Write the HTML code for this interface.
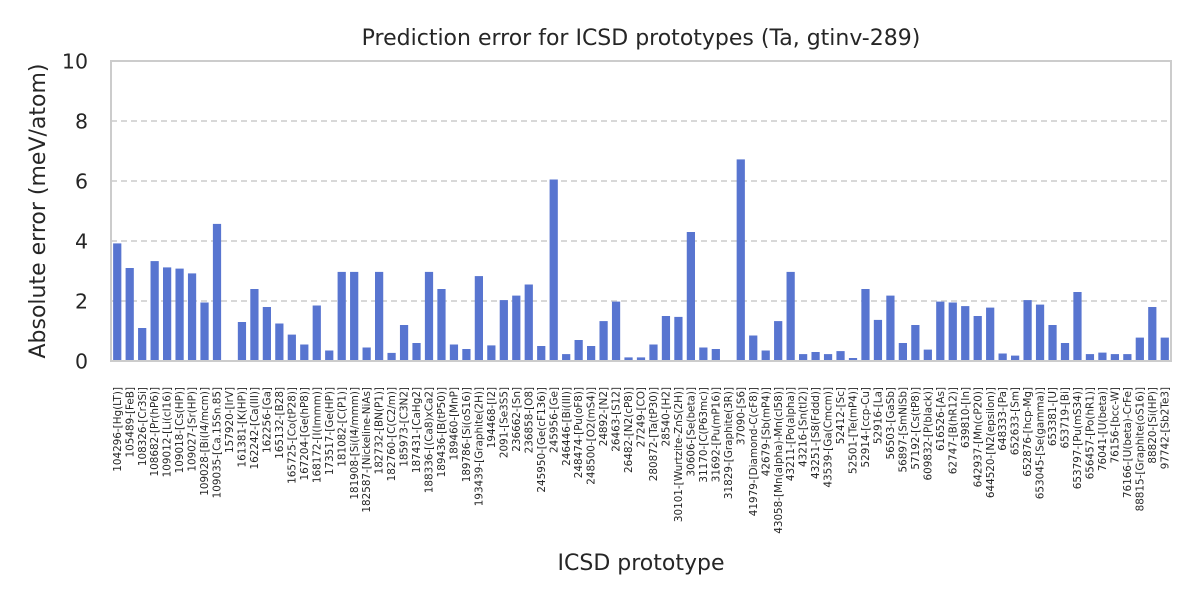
<!DOCTYPE html>
<html><head><meta charset="utf-8"><style>
html,body{margin:0;padding:0;background:#fff;}
svg{display:block;font-family:"DejaVu Sans","Liberation Sans",sans-serif;}
</style></head><body>
<svg id="chart" width="1200" height="600" viewBox="0 0 1200 600">
<rect width="1200" height="600" fill="#fff"/>
<text x="641" y="45" font-size="22" text-anchor="middle" fill="#262626">Prediction error for ICSD prototypes (Ta, gtinv-289)</text>
<g id="grid"></g>
<g id="bars"></g>
<rect x="111" y="61" width="1060" height="300" fill="none" stroke="#cccccc" stroke-width="2"/>
<g id="yticks"></g>
<g id="xticks"></g>
<text transform="translate(45,211) rotate(-90)" font-size="22" text-anchor="middle" fill="#262626">Absolute error (meV/atom)</text>
<text x="641" y="570" font-size="22" text-anchor="middle" fill="#262626">ICSD prototype</text>
</svg>
<script>
const categories = ["104296-[Hg(LT)]","105489-[FeB]","108326-[Cr3Si]","108682-[Pr(hP6)]","109012-[Li(cI16)]","109018-[Cs(HP)]","109027-[Sr(HP)]","109028-[Bi(I4/mcm)]","109035-[Ca.15Sn.85]","157920-[IrV]","161381-[K(HP)]","162242-[Ca(III)]","162256-[Ga]","165132-[B28]","165725-[Co(tP28)]","167204-[Ge(hP8)]","168172-[I(Immm)]","173517-[Ge(HP)]","181082-[C(P1)]","181908-[Si(I4/mmm)]","182587-[Nickeline-NiAs]","182732-[BN(P1)]","182760-[C(C2/m)]","185973-[C3N2]","187431-[CaHg2]","188336-[(Ca8)xCa2]","189436-[B(tP50)]","189460-[MnP]","189786-[Si(oS16)]","193439-[Graphite(2H)]","194468-[I2]","2091-[Se3S5]","236662-[Sn]","236858-[O8]","245950-[Ge(cF136)]","245956-[Ge]","246446-[Bi(III)]","248474-[Pu(oF8)]","248500-[O2(mS4)]","24892-[N2]","26463-[S12]","26482-[N2(cP8)]","27249-[CO]","280872-[Ta(tP30)]","28540-[H2]","30101-[Wurtzite-ZnS(2H)]","30606-[Se(beta)]","31170-[C(P63mc)]","31692-[Pu(mP16)]","31829-[Graphite(3R)]","37090-[S6]","41979-[Diamond-C(cF8)]","42679-[Sb(mP4)]","43058-[Mn(alpha)-Mn(cI58)]","43211-[Po(alpha)]","43216-[Sn(tI2)]","43251-[S8(Fddd)]","43539-[Ga(Cmcm)]","52412-[Sc]","52501-[Te(mP4)]","52914-[ccp-Cu]","52916-[La]","56503-[GaSb]","56897-[SmNiSb]","57192-[Cs(tP8)]","609832-[P(black)]","616526-[As]","62747-[B(hR12)]","639810-[In]","642937-[Mn(cP20)]","644520-[N2(epsilon)]","648333-[Pa]","652633-[Sm]","652876-[hcp-Mg]","653045-[Se(gamma)]","653381-[U]","653719-[Bi]","653797-[Pu(mS34)]","656457-[Po(hR1)]","76041-[U(beta)]","76156-[bcc-W]","76166-[U(beta)-CrFe]","88815-[Graphite(oS16)]","88820-[Si(HP)]","97742-[Sb2Te3]"];
const errors = [3.92,3.1,1.1,3.33,3.12,3.08,2.92,1.95,4.57,0,1.3,2.4,1.8,1.25,0.88,0.55,1.85,0.35,2.97,2.97,0.45,2.97,0.27,1.2,0.6,2.97,2.4,0.55,0.4,2.83,0.52,2.03,2.18,2.55,0.5,6.05,0.23,0.7,0.5,1.33,1.98,0.12,0.12,0.55,1.5,1.47,4.3,0.45,0.4,0,6.72,0.85,0.35,1.33,2.97,0.23,0.3,0.23,0.33,0.1,2.4,1.37,2.18,0.6,1.2,0.38,1.98,1.95,1.83,1.5,1.78,0.25,0.18,2.03,1.88,1.2,0.6,2.3,0.23,0.28,0.23,0.23,0.78,1.8,0.78];
const yTicks = [0,2,4,6,8,10];
const yTickLabels = ["0","2","4","6","8","10"];

const NS="http://www.w3.org/2000/svg";
const X0=111, X1=1171, Y0=361, Y1=61, YMAX=10;
const band=(X1-X0)/categories.length;
function xScale(i){return X0+band*(i+0.5);}
function yScale(v){return Y0-(v/YMAX)*(Y0-Y1);}
function mk(tag,attrs,parent){const e=document.createElementNS(NS,tag);for(const k in attrs)e.setAttribute(k,attrs[k]);parent.appendChild(e);return e;}

const grid=document.getElementById('grid'), yt=document.getElementById('yticks');
yTicks.forEach((t,i)=>{
  const y=yScale(t);
  if(t>0&&t<YMAX){
    const l=mk('line',{x1:X0,x2:X1,y1:y,y2:y,stroke:'#cccccc','stroke-width':1.6,'stroke-dasharray':'6,4'},grid);
    
    
  }
  const tx=mk('text',{x:X0-23,y:y+7.5,'font-size':'20.5','text-anchor':'end',fill:'#262626'},yt);
  tx.textContent=yTickLabels[i];
  
  
});

const bars=document.getElementById('bars'), xt=document.getElementById('xticks');
const bw=band*0.66;
categories.forEach((c,i)=>{
  const v=errors[i], cx=xScale(i), y=yScale(v);
  const r=mk('rect',{x:cx-bw/2,y:y,width:bw,height:Math.max(0,Y0-y),fill:'#5875d0'},bars);
  
  
  const t=mk('text',{transform:'translate('+(cx+3.6)+',387) rotate(-90)','font-size':'10.4','text-anchor':'end',fill:'#262626'},xt);
  t.textContent=c;
  
  
});
</script>
</body></html>
